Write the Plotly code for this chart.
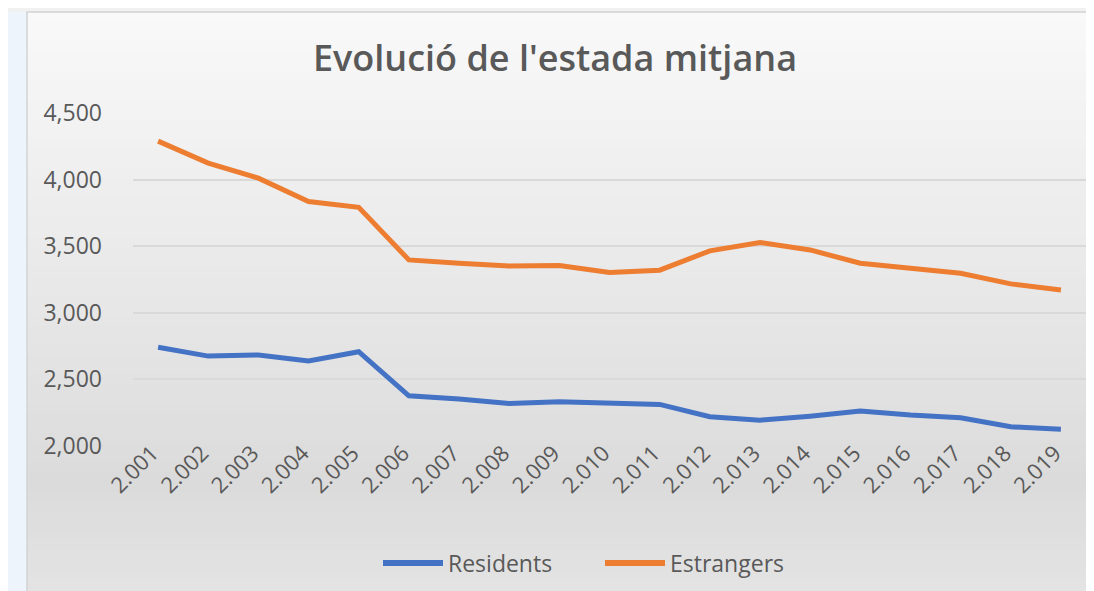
import plotly.graph_objects as go

# Data
years = ["2.001", "2.002", "2.003", "2.004", "2.005", "2.006", "2.007", "2.008", "2.009", "2.010",
         "2.011", "2.012", "2.013", "2.014", "2.015", "2.016", "2.017", "2.018", "2.019"]
residents = [2741, 2675, 2683, 2638, 2708, 2377, 2352, 2320, 2332, 2320,
             2312, 2220, 2194, 2224, 2262, 2232, 2212, 2144, 2126]
estrangers = [4289, 4124, 4011, 3836, 3792, 3397, 3372, 3352, 3355, 3302,
              3320, 3465, 3528, 3472, 3372, 3335, 3297, 3217, 3171]
y_ticks = [2000, 2500, 3000, 3500, 4000, 4500]
series_names = ["Residents", "Estrangers"]
series_colors = ["#4472C4", "#ED7D31"]

W, H = 1094, 591
M_L, M_R, M_T, M_B = 125, 16, 105, 153
PW = W - M_L - M_R
PH = H - M_T - M_B

TEXT = "#595959"
FONT = "Open Sans"


def px_x(px):
    return (px - M_L) / PW


def px_y(py):
    return 1 - (py - M_T) / PH


def grey(t):
    # vertical gradient of the chart frame: light at top, darker near the bottom
    stops = [(0.0, 249), (0.5, 231), (0.8, 219), (1.0, 228)]
    for (t0, c0), (t1, c1) in zip(stops, stops[1:]):
        if t <= t1:
            c = int(round(c0 + (c1 - c0) * (t - t0) / (t1 - t0)))
            return f"rgb({c},{c},{c})"
    return "rgb(228,228,228)"


fig = go.Figure()
for name, vals, color in zip(series_names, [residents, estrangers], series_colors):
    fig.add_trace(go.Scatter(x=years, y=vals, name=name, mode="lines",
                             line=dict(color=color, width=5), showlegend=False))

# chart frame background drawn as thin gradient bands
shapes = [dict(type="rect", xref="paper", yref="paper", layer="below",
               x0=px_x(-2), x1=px_x(W + 2), y0=px_y(4), y1=px_y(-2),
               fillcolor="#F1F1F1", line=dict(width=0))]
top, bottom, left = 4, H, 19
n = 60
for i in range(n):
    y0 = top + (bottom - top) * i / n
    y1 = top + (bottom - top) * (i + 1) / n + 0.5
    shapes.append(dict(type="rect", xref="paper", yref="paper", layer="below",
                       x0=px_x(left), x1=px_x(W + 2), y0=px_y(y1), y1=px_y(y0),
                       fillcolor=grey((i + 0.5) / n), line=dict(width=0)))
shapes.append(dict(type="rect", xref="paper", yref="paper", layer="below",
                   x0=px_x(left), x1=px_x(W + 2), y0=px_y(bottom + 2), y1=px_y(top),
                   fillcolor="rgba(0,0,0,0)", line=dict(color="#D2D2D2", width=1.5)))

# Excel-style legend with long line keys
annotations = []
legend_y = 555
for name, color, x_start in zip(series_names, series_colors, [375, 597]):
    shapes.append(dict(type="line", xref="paper", yref="paper",
                       x0=px_x(x_start), x1=px_x(x_start + 60), y0=px_y(legend_y), y1=px_y(legend_y),
                       line=dict(color=color, width=6)))
    annotations.append(dict(text=name, xref="paper", yref="paper", x=px_x(x_start + 63),
                            y=px_y(legend_y), xanchor="left", yanchor="middle", showarrow=False,
                            font=dict(family=FONT, size=23, color=TEXT)))

fig.update_layout(
    width=W, height=H,
    margin=dict(l=M_L, r=M_R, t=M_T, b=M_B),
    paper_bgcolor="#EEF4FB",
    plot_bgcolor="rgba(0,0,0,0)",
    shapes=shapes,
    annotations=annotations,
    font=dict(family=FONT, color=TEXT, size=22),
    title=dict(text="Evolució de l'estada mitjana", xref="container", x=0.5, xanchor="center",
               y=1 - 50 / H, yanchor="middle",
               font=dict(family=FONT, size=36, color=TEXT, weight=600)),
    showlegend=False,
)
fig.update_xaxes(type="category", range=[-0.5, len(years) - 0.5], showgrid=False,
                 showline=False, zeroline=False, tickangle=-45, ticks="",
                 ticklabelstandoff=-11, ticklabelshift=-6, tickfont=dict(size=22, color=TEXT))
fig.update_yaxes(range=[2000, 4500], tickvals=y_ticks, tickformat=",d", showgrid=True,
                 gridcolor="#D9D9D9", gridwidth=1.5, zeroline=False, showline=False,
                 ticks="", ticklabelstandoff=30, tickfont=dict(size=23, color=TEXT))

fig.write_html("out.html")
